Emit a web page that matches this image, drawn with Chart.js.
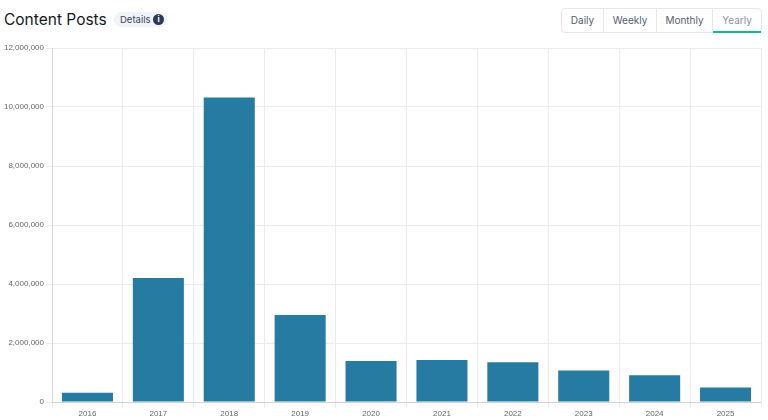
<!DOCTYPE html>
<html>
<head>
<meta charset="utf-8">
<script src="https://cdn.jsdelivr.net/npm/chart.js@4"></script>
<style>
    html, body { margin: 0; padding: 0; background: #fff; width: 768px; height: 420px; overflow: hidden; font-family: Inter, sans-serif; }
    #title { position: absolute; left: 4px; top: 9px; font-size: 15.5px; line-height: 22px; color: #15181d; }
    #details { position: absolute; left: 114px; top: 12px; height: 15px; width: 53px; border-radius: 8px; background: #f0f3f8; color: #3b4657; font-size: 9.5px; line-height: 15px; }
    #details span { position: absolute; left: 6px; top: 0; }
    #details i { position: absolute; left: 39px; top: 2px; width: 11px; height: 11px; border-radius: 50%; background: #2b3a55; color: #fff; font: bold 8px/11px Inter, sans-serif; text-align: center; }
    #tabs { position: absolute; left: 561px; top: 8px; width: 199px; height: 23px; border: 1px solid #e4e7eb; border-radius: 4px; display: flex; font-size: 10px; color: #556070; box-sizing: content-box; }
    #tabs div { line-height: 23px; text-align: center; border-right: 1px solid #e4e7eb; box-sizing: border-box; }
    #tabs div:last-child { border-right: 0; color: #8b939e; border-bottom: 2px solid #10bd7c; height: 24px; }
    #wrap { position: absolute; left: 0; top: 40px; width: 768px; height: 380px; }
</style>
</head>
<body>
<div id="title">Content Posts</div>
<div id="details"><span>Details</span><i>i</i></div>
<div id="tabs">
    <div style="width:42px">Daily</div>
    <div style="width:53px">Weekly</div>
    <div style="width:56px">Monthly</div>
    <div style="width:48px">Yearly</div>
</div>
<div id="wrap"><canvas id="postsChart"></canvas></div>
<script>
const years = ['2016', '2017', '2018', '2019', '2020', '2021', '2022', '2023', '2024', '2025'];
const posts = [310000, 4200000, 10320000, 2950000, 1390000, 1420000, 1350000, 1070000, 910000, 490000];

document.addEventListener('DOMContentLoaded', () => {
    const ctx = document.getElementById('postsChart').getContext('2d');
    new Chart(ctx, {
        type: 'bar',
        data: {
            labels: years,
            datasets: [{
                label: 'Content Posts',
                data: posts,
                backgroundColor: '#267ba2',
                barPercentage: 0.72,
                categoryPercentage: 1
            }]
        },
        options: {
            responsive: true,
            maintainAspectRatio: false,
            animation: false,
            layout: { padding: { top: 8, right: 7, left: 0, bottom: 0 } },
            plugins: { legend: { display: false }, tooltip: { enabled: false } },
            scales: {
                x: {
                    afterFit: scale => { scale.height = 18; },
                    grid: { color: '#ececec', tickLength: 6 },
                    ticks: { color: '#666', font: { family: 'Liberation Sans', size: 8 }, padding: 1, maxRotation: 0 }
                },
                y: {
                    min: 0,
                    max: 12000000,
                    afterFit: scale => { scale.width = 52; },
                    grid: { color: '#ececec', tickLength: 6 },
                    ticks: {
                        stepSize: 2000000,
                        color: '#666',
                        font: { family: 'Liberation Sans', size: 8 },
                        padding: 2,
                        callback: v => v.toLocaleString('en-US')
                    }
                }
            }
        }
    });
});
</script>
</body>
</html>
